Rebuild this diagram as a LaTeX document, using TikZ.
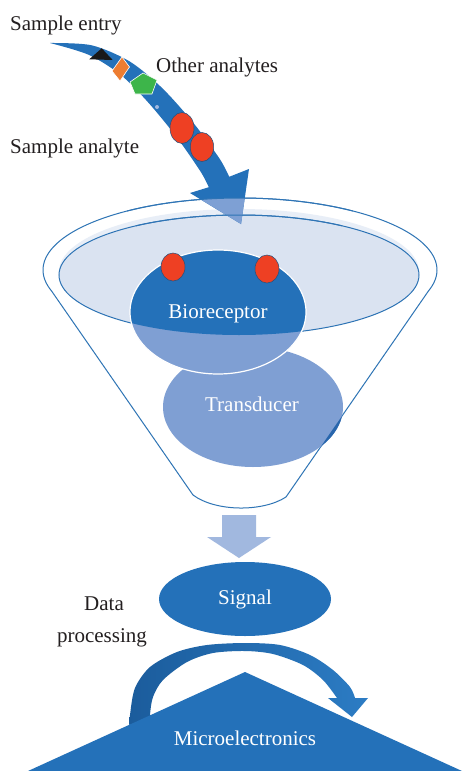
\documentclass[tikz,border=0pt]{standalone}
\usepackage{fontspec}
\setmainfont{Liberation Serif}
\definecolor{mainblue}{RGB}{36,113,185}
\definecolor{lineblue}{RGB}{46,116,181}
\definecolor{transblue}{RGB}{127,159,211}
\definecolor{downblue}{RGB}{161,184,223}
\definecolor{innerfill}{RGB}{218,227,241}
\definecolor{bandfill}{RGB}{232,238,247}
\definecolor{ghostblue}{RGB}{126,160,212}
\definecolor{sliverblue}{RGB}{40,102,172}
\definecolor{txtgray}{RGB}{35,31,32}
\definecolor{redball}{RGB}{238,64,35}
\definecolor{orangeA}{RGB}{237,125,49}
\definecolor{greenA}{RGB}{61,181,74}
\definecolor{arcdark}{RGB}{27,92,156}
\definecolor{arclight}{RGB}{44,124,196}
\newcommand{\bigArrowPath}{plot[smooth] coordinates {(50,43) (91.6,45.3) (129.6,61.4) (162.2,88.1) (193.6,123.2) (219.6,158.7) (229.2,176.8)} -- (249,169) -- (241,224) -- (190,193) -- plot[smooth] coordinates {(208.8,187.2) (200.4,171.3) (176.4,136.8) (147.8,102) (120.4,74.6) (88.4,54.7) (50,43)} -- cycle}
\begin{document}
\begin{tikzpicture}[x=1pt,y=-1pt,
  lbl/.style={inner sep=0pt, text=txtgray, font=\fontsize{21}{25}\selectfont},
  wlbl/.style={inner sep=0pt, text=white, font=\fontsize{21}{25}\selectfont},
  funnelline/.style={draw=lineblue, line width=1pt},
  redblob/.style={fill=redball, draw=lineblue!70!black, line width=0.5pt}]
\useasboundingbox (0,0) rectangle (464,771);
\fill[white] (0,0) rectangle (464,771);

% funnel
\fill[bandfill] (239,271.5) ellipse [x radius=180, y radius=62.5];
\filldraw[fill=innerfill, funnelline] (239,275) ellipse [x radius=180, y radius=60];
\draw[funnelline] plot[domain=163:377, samples=90, smooth] ({240+197*cos(\x)},{270+72*sin(\x)}) -- (286,497) .. controls (263,512) and (216,512) .. (193,495) -- cycle;

% transducer
\fill[transblue] (253,407) ellipse [x radius=90, y radius=60];
\begin{scope}
  \clip (253,407) ellipse [x radius=90, y radius=60];
  \fill[sliverblue] (428.4,291) -- (286,497) -- (464,497) -- (464,291) -- cycle;
\end{scope}

% bioreceptor
\fill[transblue] (218,312) ellipse [x radius=88, y radius=62];
\begin{scope}
  \clip (239,275) ellipse [x radius=180, y radius=60];
  \fill[mainblue] (218,312) ellipse [x radius=88, y radius=62];
\end{scope}
\draw[white, line width=1.2pt] (218,312) ellipse [x radius=88, y radius=62];
\filldraw[redblob] (173,267) ellipse [x radius=12, y radius=14];
\filldraw[redblob] (267,269) ellipse [x radius=12, y radius=14];

% big entry arrow
\fill[mainblue] \bigArrowPath;
\begin{scope}
  \clip (240,270) ellipse [x radius=197, y radius=72];
  \fill[ghostblue] \bigArrowPath;
\end{scope}
\draw[funnelline] plot[domain=235:305, samples=30, smooth] ({240+197*cos(\x)},{270+72*sin(\x)});
\draw[funnelline] plot[domain=235:305, samples=30, smooth] ({239+180*cos(\x)},{275+60*sin(\x)});

% analytes on the arrow
\fill[black!90] (89.3,59.3) -- (101.7,48.3) -- (112.7,60) -- cycle;
\filldraw[fill=orangeA, draw=white, line width=0.6pt] (122,57) -- (129.5,67) -- (120,81) -- (112,71) -- cycle;
\filldraw[fill=greenA, draw=white, line width=0.6pt] (143,73) -- (157,80) -- (152,94) -- (135,94) -- (130,82) -- cycle;
\fill[downblue] (157,107) circle (2);
\filldraw[redblob] (182,128) ellipse [x radius=12, y radius=15.5];
\filldraw[redblob] (202,147) ellipse [x radius=11.7, y radius=14.5];

% down arrow
\fill[downblue] (222,515) -- (256,515) -- (256,537) -- (271,537) -- (239,558) -- (207,537) -- (222,537) -- cycle;

% signal
\fill[mainblue] (245,599) ellipse [x radius=86, y radius=37];

% processing arc
\shade[left color=arcdark, right color=arclight] plot[smooth] coordinates {(129,732) (130,715) (135,688) (150,667) (177,652) (207,645) (245,643) (280,645) (310,655) (333,670) (350,687) (355,698)} -- (368,698) -- (352,717) -- (328,698) -- plot[smooth] coordinates {(337,698) (323,680) (303,665) (273,654) (245,651) (213,653) (187,662) (163,680) (153,697) (150,715) (150,732)} -- cycle;

% microelectronics triangle
\fill[mainblue] (245,672) -- (462,771) -- (28,771) -- cycle;

% texts
\node[lbl, anchor=base west] (entry) at (10,30) {Sample entry};
\node[lbl, anchor=base west] (other) at (156,72) {Other analytes};
\node[lbl, anchor=base west] (analyte) at (10,153) {Sample analyte};
\node[wlbl, anchor=base] (bio) at (218,318) {Bioreceptor};
\node[wlbl, anchor=base] (trans) at (252,411) {Transducer};
\node[wlbl, anchor=base] (sig) at (245,604) {Signal};
\node[lbl, anchor=base] (data) at (104,610) {Data};
\node[lbl, anchor=base] (proc) at (102,642) {processing};
\node[wlbl, anchor=base] (micro) at (245,745) {Microelectronics};
\end{tikzpicture}
\end{document}
